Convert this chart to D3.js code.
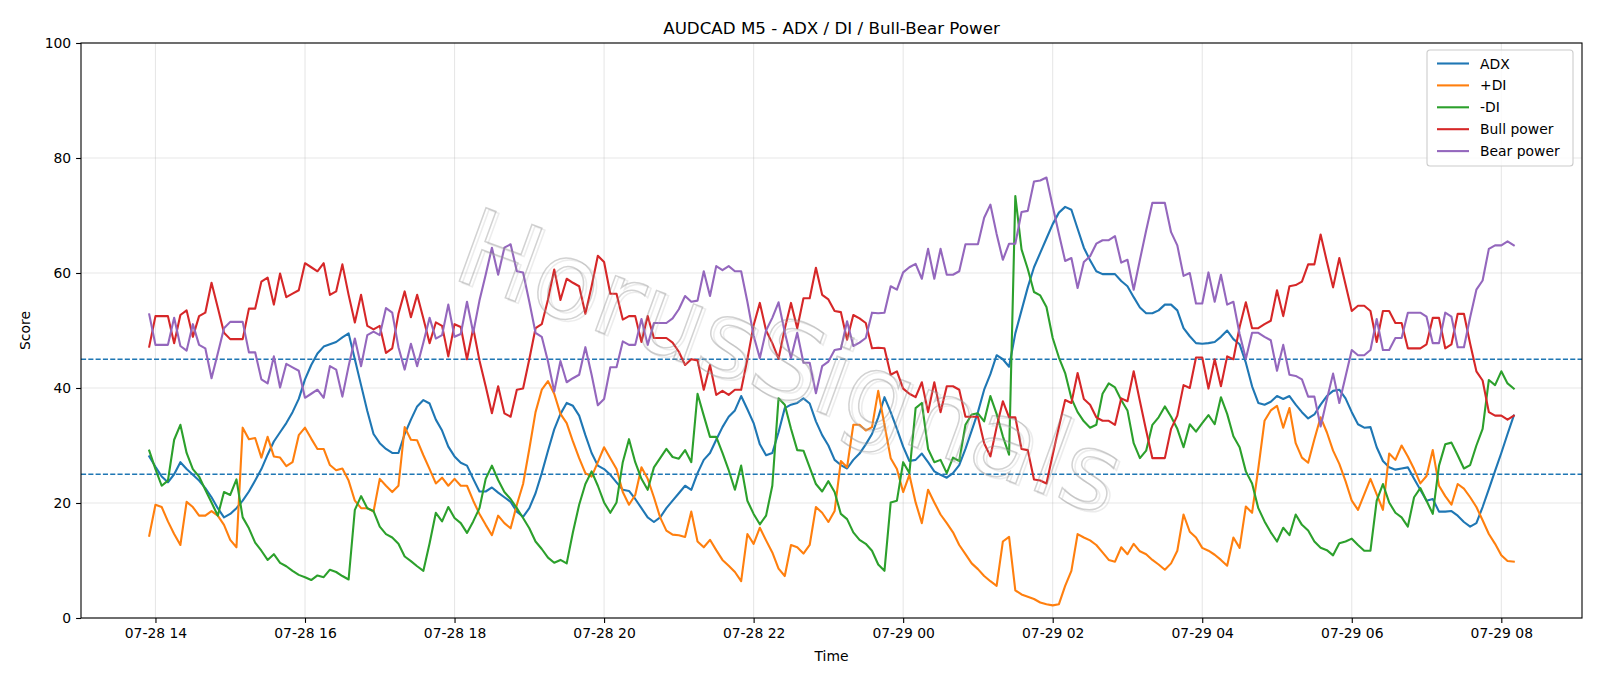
<!DOCTYPE html>
<html>
<head>
<meta charset="utf-8">
<script src="https://cdn.jsdelivr.net/npm/d3@7"></script>
<style>
  html, body { margin: 0; padding: 0; background: #fff; }
  svg { display: block; font-family: "DejaVu Sans", sans-serif; }
</style>
</head>
<body>
<svg id="chart" width="1600" height="686"></svg>
<script>
// AUDCAD M5 — ADX / DI / Bull-Bear power, one value per 5-minute bar

const START_TIME = new Date(2024, 6, 28, 13, 55);   // first bar
const BAR_MINUTES = 5;

const adx = [
  28.1,26.3,24.6,23.6,25.0,27.1,25.9,24.9,23.9,22.6,
  21.0,19.1,17.5,18.1,19.1,20.4,22.0,23.9,25.9,28.4,
  30.7,32.3,33.9,35.8,38.1,41.5,44.0,46.0,47.2,47.6,
  48.0,48.8,49.5,45.0,40.5,36.0,32.0,30.4,29.4,28.7,
  28.7,32.0,34.5,36.8,37.9,37.3,34.5,32.6,29.8,28.1,
  27.0,26.5,24.2,22.0,22.0,22.7,21.8,21.0,20.2,18.5,
  17.6,19.1,21.7,25.2,29.1,32.8,35.5,37.4,36.9,35.2,
  31.8,28.7,26.5,25.9,24.9,23.6,22.3,22.1,20.7,19.1,
  17.5,16.7,17.5,19.1,20.4,21.7,23.0,22.3,25.2,27.5,
  28.7,31.0,33.2,35.0,36.1,38.6,36.3,33.9,30.2,28.3,
  28.7,32.3,36.5,37.1,37.4,38.2,37.3,34.2,31.8,30.0,
  27.5,26.6,26.0,27.5,28.6,30.2,32.0,34.9,38.4,35.8,
  32.9,29.8,27.3,27.5,28.6,27.1,25.5,24.9,24.4,25.2,
  26.6,29.4,32.6,35.8,39.7,42.4,45.7,45.0,43.7,49.5,
  53.5,57.5,61.0,63.5,66.0,68.5,70.5,71.5,71.0,67.7,
  64.4,62.2,60.3,59.8,59.8,59.8,58.6,57.7,55.8,54.0,
  53.0,53.0,53.5,54.5,54.5,53.5,50.4,49.0,47.8,47.7,
  47.8,48.0,48.9,50.0,48.5,47.6,44.4,40.3,37.4,37.1,
  37.6,38.6,38.1,38.6,37.1,35.8,34.7,35.4,37.1,38.6,
  39.5,39.7,38.2,35.8,33.7,33.1,33.2,29.7,27.3,26.2,
  25.8,26.0,26.2,24.2,22.3,20.4,20.7,18.5,18.5,18.6,
  17.8,16.7,15.9,16.5,19.3,22.4,25.6,28.7,32.0,35.2
];

const plusDI = [
  14.3,19.7,19.3,16.8,14.6,12.7,20.2,19.3,17.8,17.8,
  18.6,17.8,16.2,13.6,12.3,33.1,31.1,31.3,27.9,31.5,
  28.1,27.9,26.4,27.1,31.8,33.1,31.2,29.4,29.4,26.6,
  25.7,26.0,23.9,20.4,19.1,19.1,18.5,24.2,23.0,21.9,
  23.0,33.2,31.0,30.9,28.3,25.9,23.4,24.4,23.0,24.2,
  23.0,23.0,20.4,18.1,16.2,14.4,17.8,16.5,15.6,19.7,
  23.3,29.4,35.8,39.7,41.2,39.0,35.5,33.9,30.7,27.8,
  25.2,24.6,27.1,29.7,27.8,25.9,21.9,19.7,21.4,26.2,
  24.2,21.0,17.5,15.2,14.5,14.4,14.1,18.5,13.3,12.3,
  13.6,11.8,10.1,9.1,8.0,6.4,14.6,12.9,15.7,13.5,
  11.4,8.6,7.3,12.7,12.3,11.2,12.7,19.3,18.3,16.7,
  18.6,27.3,26.2,33.6,33.6,32.6,33.2,39.5,33.6,27.8,
  25.9,21.9,24.9,20.1,16.5,22.3,20.1,18.0,16.5,14.9,
  12.7,11.1,9.5,8.5,7.3,6.4,5.6,13.3,14.1,4.8,
  4.1,3.7,3.3,2.7,2.4,2.2,2.4,5.6,8.2,14.6,
  14.0,13.5,12.7,11.4,10.1,9.8,12.3,11.1,12.9,11.6,
  11.1,10.1,9.3,8.4,9.5,11.7,18.0,15.0,14.0,12.2,
  11.7,11.0,10.1,9.1,14.0,12.2,19.4,18.3,26.0,34.3,
  36.1,36.9,33.1,36.5,30.4,27.9,27.0,31.1,34.9,32.3,
  29.1,26.8,23.8,20.4,18.8,21.5,24.2,21.5,18.8,28.6,
  27.5,30.0,28.1,25.9,23.4,24.7,29.2,23.0,21.2,19.7,
  23.3,22.5,21.0,19.3,17.0,14.6,12.9,10.9,9.9,9.8
];

const minusDI = [
  29.1,25.9,23.0,23.9,31.0,33.6,28.7,25.9,24.6,22.3,
  20.1,17.8,21.9,21.4,24.1,17.5,15.6,13.1,11.7,10.1,
  11.1,9.6,9.0,8.2,7.5,7.1,6.6,7.4,7.1,8.4,
  8.0,7.3,6.7,18.8,21.2,19.1,18.6,15.9,14.6,14.0,
  12.9,10.7,9.9,9.0,8.2,13.0,18.3,16.8,19.3,17.4,
  16.5,14.8,16.8,19.1,24.2,26.5,24.0,21.9,20.7,19.1,
  17.4,15.6,13.3,12.0,10.5,9.6,10.1,9.5,14.9,19.7,
  23.3,25.5,23.0,20.1,18.3,20.1,27.1,31.1,27.1,24.2,
  22.3,26.2,27.8,29.4,28.0,27.7,29.2,27.1,39.0,35.2,
  31.5,31.5,28.7,25.7,22.3,26.5,20.4,18.1,16.3,17.8,
  23.0,38.2,37.1,32.9,29.2,29.1,26.2,23.3,22.0,23.8,
  21.9,18.1,17.2,14.9,13.6,12.9,11.7,9.3,8.2,20.1,
  20.4,27.1,25.2,36.5,37.4,29.4,27.1,27.5,25.2,27.9,
  27.3,33.6,35.4,35.6,34.2,38.6,35.5,31.6,28.4,73.4,
  64.1,60.7,56.7,56.1,54.1,48.7,45.3,42.6,38.2,35.8,
  34.2,33.1,33.6,39.0,40.8,40.1,37.9,36.1,30.4,27.8,
  29.1,33.6,34.9,36.8,35.0,32.9,29.7,33.7,32.4,33.9,
  35.3,33.7,38.4,35.5,31.6,29.7,25.5,23.4,19.1,16.8,
  14.9,13.3,15.7,14.4,18.0,16.2,15.2,13.3,12.2,11.8,
  10.9,13.0,13.3,13.8,12.7,11.7,11.7,20.4,23.3,20.1,
  18.3,17.5,15.9,21.0,22.6,20.4,18.1,26.5,30.2,30.5,
  28.3,26.0,26.6,30.0,32.9,41.4,40.5,42.9,40.8,39.9
];

const bullPower = [
  47.2,52.5,52.5,52.5,47.8,52.7,53.5,48.9,52.5,53.1,
  58.3,54.0,49.6,48.5,48.5,48.5,53.8,53.8,58.5,59.2,
  54.5,59.9,55.8,56.4,57.0,61.7,61.0,60.3,61.7,56.2,
  56.8,61.5,56.2,51.4,56.2,50.8,50.2,50.8,46.1,46.9,
  52.9,56.8,52.3,56.2,52.1,47.8,51.4,50.8,45.5,51.1,
  50.6,45.0,50.4,44.8,40.3,35.6,40.3,35.6,35.0,39.7,
  39.9,45.0,50.4,51.1,55.4,60.6,55.3,59.0,58.3,57.7,
  52.9,57.7,63.0,61.9,56.4,56.4,51.9,52.5,52.5,48.0,
  52.5,48.7,48.7,48.7,47.9,46.3,44.0,45.0,44.8,39.7,
  44.0,38.8,39.5,38.8,39.7,39.7,45.0,50.9,54.8,50.0,
  47.8,45.1,50.3,54.8,50.4,55.6,55.6,60.9,56.2,55.4,
  53.4,53.2,48.4,52.7,52.1,51.3,46.9,47.0,46.9,42.3,
  42.9,39.9,39.0,38.4,41.0,35.8,41.0,35.8,40.3,40.3,
  39.7,35.0,35.0,35.0,30.4,28.1,33.2,37.7,34.9,34.9,
  29.4,29.2,24.1,23.9,23.4,28.4,33.2,37.9,37.4,42.6,
  38.1,37.1,34.9,34.3,34.3,33.6,38.2,37.7,42.9,37.7,
  32.6,27.8,27.8,27.8,32.9,35.2,40.5,40.0,45.3,45.3,
  39.9,45.0,40.3,45.5,45.0,50.6,54.9,50.4,50.4,51.1,
  51.7,57.0,52.5,57.7,57.9,58.5,61.5,61.5,66.7,62.0,
  57.5,62.6,58.0,53.4,54.3,54.3,53.4,48.0,53.4,53.4,
  51.3,51.3,46.9,46.9,46.9,47.6,52.2,52.2,46.9,47.6,
  52.9,52.9,47.7,42.9,41.3,35.8,35.2,35.2,34.5,35.2
];

const bearPower = [
  52.8,47.5,47.5,47.5,52.2,47.3,46.5,51.1,47.5,46.9,
  41.7,46.0,50.4,51.5,51.5,51.5,46.2,46.2,41.5,40.8,
  45.5,40.1,44.2,43.6,43.0,38.3,39.0,39.7,38.3,43.8,
  43.2,38.5,43.8,48.6,43.8,49.2,49.8,49.2,53.9,53.1,
  47.1,43.2,47.7,43.8,47.9,52.2,48.6,49.2,54.5,48.9,
  49.4,55.0,49.6,55.2,59.7,64.4,59.7,64.4,65.0,60.3,
  60.1,55.0,49.6,48.9,44.6,39.4,44.7,41.0,41.7,42.3,
  47.1,42.3,37.0,38.1,43.6,43.6,48.1,47.5,47.5,52.0,
  47.5,51.3,51.3,51.3,52.1,53.7,56.0,55.0,55.2,60.3,
  56.0,61.2,60.5,61.2,60.3,60.3,55.0,49.1,45.2,50.0,
  52.2,54.9,49.7,45.2,49.6,44.4,44.4,39.1,43.8,44.6,
  46.6,46.8,51.6,47.3,47.9,48.7,53.1,53.0,53.1,57.7,
  57.1,60.1,61.0,61.6,59.0,64.2,59.0,64.2,59.7,59.7,
  60.3,65.0,65.0,65.0,69.6,71.9,66.8,62.3,65.1,65.1,
  70.6,70.8,75.9,76.1,76.6,71.6,66.8,62.1,62.6,57.4,
  61.9,62.9,65.1,65.7,65.7,66.4,61.8,62.3,57.1,62.3,
  67.4,72.2,72.2,72.2,67.1,64.8,59.5,60.0,54.7,54.7,
  60.1,55.0,59.7,54.5,55.0,49.4,45.1,49.6,49.6,48.9,
  48.3,43.0,47.5,42.3,42.1,41.5,38.5,38.5,33.3,38.0,
  42.5,37.4,42.0,46.6,45.7,45.7,46.6,52.0,46.6,46.6,
  48.7,48.7,53.1,53.1,53.1,52.4,47.8,47.8,53.1,52.4,
  47.1,47.1,52.3,57.1,58.7,64.2,64.8,64.8,65.5,64.8
];

const seriesNames  = ['ADX', '+DI', '-DI', 'Bull power', 'Bear power'];
const seriesValues = [adx, plusDI, minusDI, bullPower, bearPower];
const seriesColors = ['#1f77b4', '#ff7f0e', '#2ca02c', '#d62728', '#9467bd'];

const thresholds = [45, 25];
const yTicks     = [0, 20, 40, 60, 80, 100];

const chartTitle = 'AUDCAD M5 - ADX / DI / Bull-Bear Power';
const xLabel     = 'Time';
const yLabel     = 'Score';
const watermark  = 'HorusSignals';

// ── Layout ────────────────────────────────────────────────────────────────────

const W = 1600, H = 686;
const M = { top: 43, right: 18, bottom: 68, left: 81 };
const IW = W - M.left - M.right;
const IH = H - M.top - M.bottom;

const svg = d3.select('#chart');

const times = d3.range(adx.length).map(i => d3.timeMinute.offset(START_TIME, i * BAR_MINUTES));

// matplotlib style 5% side margins on the time axis
const [t0, t1] = d3.extent(times);
const pad = (t1 - t0) * 0.05;
const x = d3.scaleTime()
  .domain([new Date(+t0 - pad), new Date(+t1 + pad)])
  .range([M.left, M.left + IW]);

const y = d3.scaleLinear().domain([0, 100]).range([M.top + IH, M.top]);

const xTickVals = d3.timeHour.every(2).range(t0, t1);

// ── Grid ──────────────────────────────────────────────────────────────────────

const grid = svg.append('g').attr('stroke', '#b0b0b0').attr('stroke-opacity', 0.3).attr('stroke-width', 1.1);
grid.selectAll('line.gx')
  .data(xTickVals)
  .enter().append('line')
  .attr('x1', d => x(d)).attr('x2', d => x(d))
  .attr('y1', M.top).attr('y2', M.top + IH);
grid.selectAll('line.gy')
  .data(yTicks)
  .enter().append('line')
  .attr('x1', M.left).attr('x2', M.left + IW)
  .attr('y1', d => y(d)).attr('y2', d => y(d));

// ── Threshold lines ───────────────────────────────────────────────────────────

svg.selectAll('line.thr')
  .data(thresholds)
  .enter().append('line')
  .attr('class', 'thr')
  .attr('x1', M.left).attr('x2', M.left + IW)
  .attr('y1', d => y(d)).attr('y2', d => y(d))
  .attr('stroke', '#1f77b4')
  .attr('stroke-width', 1.4)
  .attr('stroke-dasharray', '5.1,2.2');

// ── Series ────────────────────────────────────────────────────────────────────

const line = d3.line()
  .x((d, i) => x(times[i]))
  .y(d => y(d));

svg.append('g')
  .selectAll('path.series')
  .data(seriesValues)
  .enter().append('path')
  .attr('class', 'series')
  .attr('d', line)
  .attr('fill', 'none')
  .attr('stroke', (d, i) => seriesColors[i])
  .attr('stroke-width', 2.1)
  .attr('stroke-linejoin', 'round')
  .attr('stroke-linecap', 'square');

// ── Watermark ─────────────────────────────────────────────────────────────────

// soft offset copy first, then the outline itself
[[3, 2, '#c0c0c0', 0.3], [0, 0, '#8a8a8a', 0.38]].forEach(([dx, dy, col, op]) => {
  svg.append('text')
    .attr('transform', `translate(${790 + dx},${362 + dy}) rotate(20)`)
    .attr('text-anchor', 'middle')
    .attr('dominant-baseline', 'central')
    .attr('font-size', 107)
    .attr('fill', 'none')
    .attr('stroke', col)
    .attr('stroke-opacity', op)
    .attr('stroke-width', 1.5)
    .text(watermark);
});

// ── Axes ──────────────────────────────────────────────────────────────────────

const xAxis = svg.append('g')
  .attr('transform', `translate(0,${M.top + IH})`)
  .call(d3.axisBottom(x).tickValues(xTickVals).tickFormat(d3.timeFormat('%m-%d %H'))
    .tickSize(4.9).tickPadding(4.9));

const yAxis = svg.append('g')
  .attr('transform', `translate(${M.left},0)`)
  .call(d3.axisLeft(y).tickValues(yTicks).tickSize(4.9).tickPadding(4.9));

[xAxis, yAxis].forEach(a => {
  a.select('.domain').remove();
  a.selectAll('line').attr('stroke', '#000').attr('stroke-width', 1.1);
  a.selectAll('text').attr('font-size', 13.9).attr('fill', '#000')
    .attr('font-family', '"DejaVu Sans", sans-serif');
});

// frame
svg.append('rect')
  .attr('x', M.left).attr('y', M.top)
  .attr('width', IW).attr('height', IH)
  .attr('fill', 'none')
  .attr('stroke', '#000')
  .attr('stroke-width', 1.1);

// ── Labels ────────────────────────────────────────────────────────────────────

svg.append('text')
  .attr('x', M.left + IW / 2).attr('y', 34)
  .attr('text-anchor', 'middle')
  .attr('font-size', 16.7)
  .text(chartTitle);

svg.append('text')
  .attr('x', M.left + IW / 2).attr('y', 661)
  .attr('text-anchor', 'middle')
  .attr('font-size', 13.9)
  .text(xLabel);

svg.append('text')
  .attr('transform', `translate(30,${M.top + IH / 2}) rotate(-90)`)
  .attr('text-anchor', 'middle')
  .attr('font-size', 13.9)
  .text(yLabel);

// ── Legend ────────────────────────────────────────────────────────────────────

const leg = svg.append('g').attr('transform', `translate(1427,50)`);
leg.append('rect')
  .attr('x', 0).attr('y', 0)
  .attr('width', 146).attr('height', 116)
  .attr('rx', 3)
  .attr('fill', '#fff').attr('fill-opacity', 0.8)
  .attr('stroke', '#cccccc').attr('stroke-width', 1.1);

seriesNames.forEach((name, i) => {
  const ly = 13.5 + i * 21.9;
  leg.append('line')
    .attr('x1', 10).attr('x2', 42)
    .attr('y1', ly).attr('y2', ly)
    .attr('stroke', seriesColors[i]).attr('stroke-width', 2.1);
  leg.append('text')
    .attr('x', 53).attr('y', ly)
    .attr('dominant-baseline', 'central')
    .attr('font-size', 13.9)
    .text(name);
});
</script>
</body>
</html>
